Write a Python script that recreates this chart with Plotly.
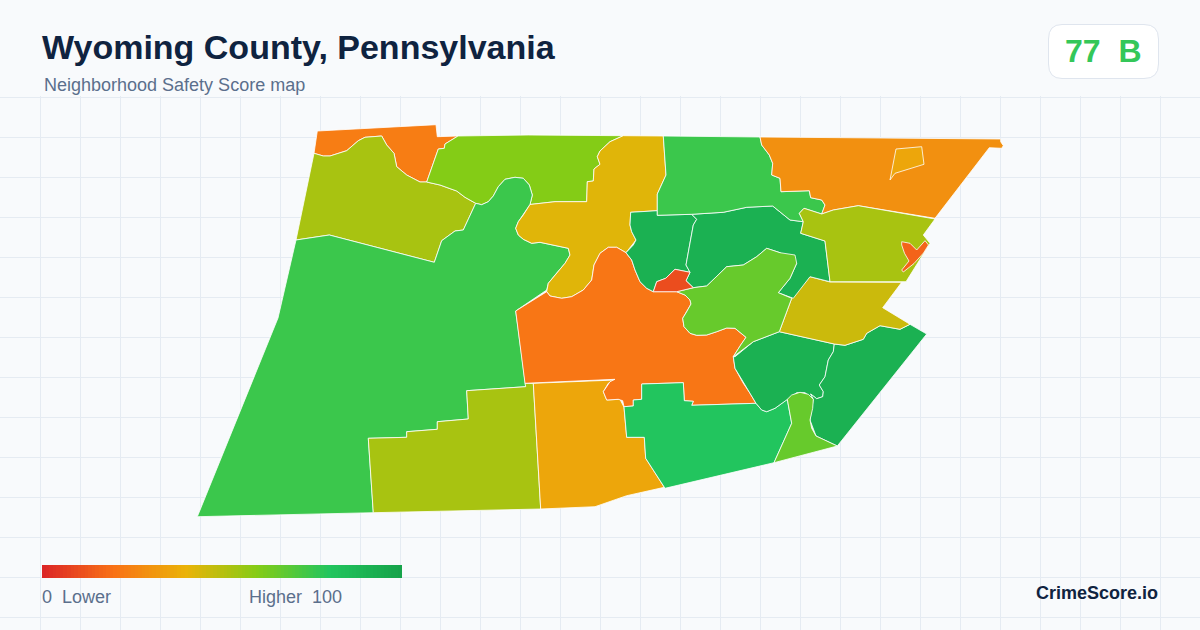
import plotly.graph_objects as go
from plotly.colors import sample_colorscale

# score ramp, also used for the legend bar
RAMP = [[0.0, '#dc2626'], [0.2, '#f97316'], [0.4, '#eab308'], [0.6, '#84cc16'], [0.8, '#22c55e'], [1.0, '#16a34a']]
LEGEND_Z = list(range(0, 101))

# township outlines (map units = screen px of the reference)
nw_orange_x = [317.3, 436, 437.3, 458, 445, 444.3, 438.3, 426.7, 420, 406.7, 396.7, 394, 386.7, 381.7, 365, 358.3, 346.7, 330, 323.3, 314]
nw_orange_y = [131, 124.7, 136.7, 136, 144, 148.3, 149, 182, 182, 175, 166.7, 153.3, 145, 136, 137.3, 140.7, 150.7, 156, 156, 153.3]

nw_olive_x = [314, 323.3, 330, 346.7, 358.3, 365, 381.7, 386.7, 394, 396.7, 406.7, 420, 426.7, 440, 456.7, 465, 475.7, 463.3, 455, 441.7, 434.3, 329.3, 296]
nw_olive_y = [153.3, 156, 156, 150.7, 140.7, 137.3, 136, 145, 153.3, 166.7, 175, 182, 182, 185, 191, 197.3, 203.3, 230, 231, 240.7, 262.3, 235, 240]

north_lime_x = [458, 528.3, 623.3, 610, 600, 597.3, 600, 594, 593.3, 587.3, 586.7, 555, 530, 532.3, 529.3, 523.3, 515, 505, 498.3, 493.3, 488.3, 481.7, 475.7, 465, 456.7, 440, 426.7, 438.3, 444.3, 445]
north_lime_y = [136, 135, 135.7, 141.7, 151, 156.7, 164.3, 169, 181, 181.7, 201.7, 201.7, 204.5, 195, 185, 178.3, 177.3, 179.3, 186.7, 196, 201.7, 204.7, 203.3, 197.3, 191, 185, 182, 149, 148.3, 144]

west_green_x = [296, 329.3, 434.3, 441.7, 455, 463.3, 475.7, 481.7, 488.3, 493.3, 498.3, 505, 515, 523.3, 529.3, 532.3, 530, 523.3, 518.3, 515.7, 518.3, 523.3, 531.7, 540, 568.3, 570, 565, 555, 548.3, 546.7, 515.7, 518.3, 525, 525.7, 466.7, 468.3, 437.3, 437.3, 406.7, 406.7, 368.3, 373.3, 197.3, 272.7, 278]
west_green_y = [240, 235, 262.3, 240.7, 231, 230, 203.3, 204.7, 201.7, 196, 186.7, 179.3, 177.3, 178.3, 185, 195, 204.5, 215, 221.7, 228.3, 235, 239.3, 243.3, 242.3, 248.3, 255, 263.3, 275, 283.3, 290, 311, 330, 383.3, 386.7, 390.7, 419, 421.7, 429.3, 431.7, 437.3, 438.3, 512.7, 516.7, 330, 318]

south_olive_x = [368.3, 406.7, 406.7, 437.3, 437.3, 468.3, 466.7, 525.7, 525, 533.3, 540.7, 373.3]
south_olive_y = [438.3, 437.3, 431.7, 429.3, 421.7, 419, 390.7, 386.7, 383.3, 383.3, 509, 512.7]

south_gold_x = [533.3, 615, 608.3, 603.3, 606.7, 620, 624, 626.7, 644.3, 645.7, 664.3, 626.7, 595, 540.7]
south_gold_y = [383.3, 380, 383.3, 391.7, 400, 399.3, 407.3, 437.3, 437.3, 458.3, 487.3, 495.7, 506.7, 509]

center_orange_x = [515.7, 546.7, 550, 561.7, 571.7, 583.3, 591.7, 594, 600, 608.3, 616.7, 626, 631.7, 635, 640, 646.7, 653.3, 676.7, 685, 690, 691, 686.7, 682.7, 684, 690, 696.7, 706.7, 716.7, 726.7, 735, 746, 740.7, 733.3, 735, 743.3, 750, 756, 691.7, 693.3, 684.3, 683.3, 641.7, 641.7, 633.3, 633.3, 624, 622.7, 618.3, 606.7, 603.3, 610, 615, 533.3, 525]
center_orange_y = [311, 291.7, 296, 298.3, 296.7, 290, 280, 265, 253.3, 247.3, 247.3, 252.7, 260, 270, 281.7, 288.3, 291.7, 291.7, 295, 300, 304, 311.7, 318.3, 326.7, 333.3, 335.3, 335, 331.7, 328, 328.3, 337.3, 345, 356.7, 368.3, 383.3, 393.3, 403.3, 405.3, 401.3, 400.7, 382.7, 384, 399.3, 400, 406, 406.7, 400.7, 399.3, 400, 391.7, 381.7, 379.3, 382.7, 383.3]

south_green_x = [641.7, 683.3, 684.3, 693.3, 691.7, 756, 761.7, 766.7, 775, 787.3, 791.7, 774, 665, 645.7, 644.3, 626.7, 624, 633.3, 633.3, 641.7]
south_green_y = [384, 382.7, 400.7, 401.3, 405.3, 403.3, 410, 411.7, 408.3, 399.3, 423.3, 462.7, 488.3, 458.3, 437.3, 437.3, 406.7, 406, 400, 399.3]

south_lime_x = [787.3, 791.7, 800, 808.3, 813.3, 812.7, 810, 811.7, 816, 837.3, 774, 791.7]
south_lime_y = [399.3, 395, 392.3, 394.3, 399.3, 408.3, 420, 428.3, 436, 446, 462.7, 423.3]

se_dark_left_x = [735, 753.3, 779.3, 834.3, 833.3, 828.3, 825, 819.3, 823.3, 822.7, 816.7, 810.7, 813.3, 805, 796.7, 787.3, 775, 766.7, 761.7, 756, 750, 743.3, 735, 733.3]
se_dark_left_y = [356.7, 341.7, 331.7, 344, 351.7, 360, 376.7, 385, 391.7, 396.7, 398.7, 394, 399.3, 392.7, 392.7, 399.3, 408.3, 411.7, 410, 403.3, 393.3, 383.3, 368.3, 356.7]

se_dark_right_x = [834.3, 845, 863.3, 866.7, 880, 900, 910, 926.7, 837.3, 816, 810, 813.3, 810.7, 816.7, 822.7, 823.3, 819.3, 825, 828.3, 833.3]
se_dark_right_y = [344, 345.3, 339.3, 333.3, 325.7, 329.3, 324.3, 334, 446, 436, 420, 399.3, 394, 398.7, 396.7, 391.7, 385, 376.7, 360, 351.7]

east_yellow_x = [810, 830, 901.7, 882.7, 910, 900, 880, 866.7, 863.3, 845, 834.3, 779.3, 791.7]
east_yellow_y = [276.7, 282, 282.3, 307.7, 324.3, 329.3, 325.7, 333.3, 339.3, 345.3, 344, 331.7, 298.3]

center_lime_x = [676.7, 693.3, 706.7, 716.7, 726.7, 743.3, 756.7, 766.7, 780, 795, 796.7, 790, 778.3, 791.7, 779.3, 753.3, 733.3, 740.7, 746, 735, 726.7, 716.7, 706.7, 696.7, 690, 684, 682.7, 686.7, 691, 690, 685]
center_lime_y = [291.7, 287.7, 286, 276.7, 266.7, 265, 256.7, 248.3, 252.7, 255, 263.3, 278.3, 292.7, 298.3, 331.7, 341.7, 356.7, 345, 337.3, 328.3, 328, 331.7, 335, 335.3, 333.3, 326.7, 318.3, 311.7, 304, 300, 295]

mid_dark_left_x = [630.7, 657.3, 657.3, 691.7, 696.7, 693.3, 686, 690, 675, 665.7, 656.7, 653.3, 646.7, 640, 635, 631.7, 626, 633.3, 636, 631.7, 630]
mid_dark_left_y = [212.3, 210.7, 215.3, 214.3, 219.3, 225, 265, 272.3, 269.3, 278.3, 281.7, 291.7, 288.3, 281.7, 270, 260, 252.7, 245, 240, 231.7, 225]

mid_dark_right_x = [691.7, 723.3, 746.7, 772.7, 790, 803.3, 800.7, 825, 830, 810, 793.3, 778.3, 790, 796.7, 780, 766.7, 756.7, 743.3, 726.7, 706.7, 693.3, 686, 690, 686, 693.3, 696.7]
mid_dark_right_y = [214.3, 212.3, 207.3, 206, 220, 221.7, 233.3, 241, 281.7, 276.7, 298.3, 292.7, 278.3, 263.3, 252.7, 248.3, 256.7, 265, 266.7, 286, 287.7, 280.7, 272.3, 265, 225, 219.3]

north_green_x = [663.3, 760, 761.7, 769.3, 772.7, 771.7, 780, 781, 809.3, 810.7, 821.7, 825, 821.7, 804, 799.3, 803.3, 790, 772.7, 746.7, 723.3, 691.7, 657.3, 657.3, 666]
north_green_y = [136, 137, 145, 155, 163.3, 175, 178.3, 191.7, 190.7, 197.7, 200, 205, 214, 208.3, 213.3, 221.7, 220, 206, 207.3, 212.3, 214.3, 215.3, 194, 175]

ne_orange_x = [760, 983.3, 1000.7, 1000.7, 1003.3, 1001.7, 989.3, 935, 858.3, 833.3, 821.7, 825, 821.7, 810.7, 809.3, 781, 780, 771.7, 772.7, 769.3, 761.7]
ne_orange_y = [137, 138.3, 139, 141.7, 145.7, 148.3, 147.7, 218.3, 205.7, 210, 214, 205, 200, 197.7, 190.7, 191.7, 178.3, 175, 163.3, 155, 145]

ne_inner_x = [896, 921.7, 924, 895, 890]
ne_inner_y = [149, 146.7, 164.3, 173.3, 180]

east_olive_x = [821.7, 833.3, 858.3, 935, 923.3, 930, 906, 830, 825, 800.7, 803.3, 799.3, 804]
east_olive_y = [214, 210, 205.7, 219, 235, 243.3, 281.7, 281.7, 241, 233.3, 221.7, 213.3, 208.3]

east_red_x = [901.7, 910, 916.7, 925, 928.5, 923.5, 914, 903.3, 901.7, 909, 904.5, 901.7]
east_red_y = [241.7, 243.3, 250, 240.7, 245, 253, 263.5, 272, 270, 261, 253.3, 245]

center_red_x = [653.3, 656.7, 665.7, 675, 690, 686, 693.3, 676.7]
center_red_y = [291.7, 281.7, 278.3, 269.3, 272.3, 280.7, 287.7, 291.7]

center_gold_x = [623.3, 663.3, 666, 657.3, 657.3, 630.7, 630, 631.7, 636, 626, 616.7, 608.3, 600, 594, 591.7, 583.3, 571.7, 561.7, 550, 546.7, 548.3, 555, 565, 570, 568.3, 540, 531.7, 523.3, 518.3, 515.7, 518.3, 523.3, 530, 555, 586.7, 587.3, 593.3, 594, 600, 597.3, 600, 610]
center_gold_y = [135.7, 136, 175, 194, 210.7, 212.3, 225, 231.7, 240, 252.7, 247.3, 247.3, 253.3, 265, 280, 290, 296.7, 298.3, 296, 291.7, 283.3, 275, 263.3, 255, 248.3, 242.3, 243.3, 239.3, 235, 228.3, 221.7, 215, 204.5, 201.7, 201.7, 181.7, 181, 169, 164.3, 156.7, 151, 141.7]

# (x, y, score) in drawing order
regions = [
    (nw_orange_x, nw_orange_y, 23),
    (nw_olive_x, nw_olive_y, 53),
    (north_lime_x, north_lime_y, 60),
    (west_green_x, west_green_y, 75),
    (south_olive_x, south_olive_y, 53),
    (south_gold_x, south_gold_y, 36),
    (center_gold_x, center_gold_y, 42),
    (center_orange_x, center_orange_y, 21),
    (south_green_x, south_green_y, 80),
    (se_dark_left_x, se_dark_left_y, 92),
    (se_dark_right_x, se_dark_right_y, 92),
    (south_lime_x, south_lime_y, 66),
    (east_yellow_x, east_yellow_y, 46),
    (mid_dark_left_x, mid_dark_left_y, 92),
    (mid_dark_right_x, mid_dark_right_y, 92),
    (center_lime_x, center_lime_y, 66),
    (center_red_x, center_red_y, 10),
    (north_green_x, north_green_y, 75),
    (ne_orange_x, ne_orange_y, 29),
    (ne_inner_x, ne_inner_y, 36),
    (east_olive_x, east_olive_y, 53),
    (east_red_x, east_red_y, 16),
]

BG = '#f8fafc'
GRID = '#e5ebf2'
FONT = 'Liberation Sans, Arial, sans-serif'

fig = go.Figure()

for xs, ys, score in regions:
    fig.add_trace(go.Scatter(
        x = xs + xs[:1], y = ys + ys[:1],
        mode = 'lines', fill = 'toself',
        fillcolor = sample_colorscale(RAMP, score / 100)[0],
        line = dict(color = 'white', width = 0.8),
        hoverinfo = 'skip', showlegend = False,
    ))

# legend bar
fig.add_trace(go.Heatmap(
    z = [LEGEND_Z], x0 = 43.78, dx = 3.564, y0 = 571.5, dy = 13,
    colorscale = RAMP, zmin = 0, zmax = 100, showscale = False, hoverinfo = 'skip',
))


def label(x, y, text, size, color, anchor = 'left', bold = False):
    fig.add_annotation(
        x = x, y = y, xref = 'x', yref = 'y', text = f'<b>{text}</b>' if bold else text,
        showarrow = False, xanchor = anchor, yanchor = 'middle',
        font = dict(family = FONT, size = size, color = color),
        borderpad = 0, borderwidth = 0,
    )


label(42, 47, 'Wyoming County, Pennsylvania', 34, '#0f2340', bold = True)
label(44, 85, 'Neighborhood Safety Score map', 18, '#5b6f8c')
label(1103, 51, '77\u00a0\u00a0B', 32, '#34c759', anchor = 'center', bold = True)
label(42, 597, '0\u00a0\u00a0Lower', 18, '#5b6f8c')
label(249, 597, 'Higher\u00a0\u00a0100', 18, '#5b6f8c')
label(1158, 593, 'CrimeScore.io', 18, '#0f2340', anchor = 'right', bold = True)

fig.update_layout(
    width = 1200, height = 630,
    margin = dict(l = 0, r = 0, t = 0, b = 0),
    plot_bgcolor = BG, paper_bgcolor = BG,
    showlegend = False,
    xaxis = dict(range = [0, 1200], showgrid = True, gridcolor = GRID, gridwidth = 1,
                 tick0 = 0, dtick = 40, zeroline = False, showticklabels = False, ticks = ''),
    yaxis = dict(range = [630, 0], showgrid = True, gridcolor = GRID, gridwidth = 1,
                 tick0 = 17, dtick = 40, zeroline = False, showticklabels = False, ticks = ''),
    shapes = [
        # header strip has no grid
        dict(type = 'rect', x0 = 0, x1 = 1200, y0 = 0, y1 = 96, fillcolor = BG,
             line = dict(width = 0), layer = 'between'),
        # score badge
        dict(type = 'path', line = dict(color = '#dfe5ee', width = 1), fillcolor = 'white', layer = 'above',
             path = 'M 1062 24.5 L 1144 24.5 Q 1158.5 24.5 1158.5 39 L 1158.5 64 Q 1158.5 78.5 1144 78.5 '
                    'L 1062 78.5 Q 1048.5 78.5 1048.5 64 L 1048.5 39 Q 1048.5 24.5 1062 24.5 Z'),
    ],
)

fig.write_html("out.html", config = dict(displayModeBar = False),
               post_script = "document.body.style.margin = '0';")
